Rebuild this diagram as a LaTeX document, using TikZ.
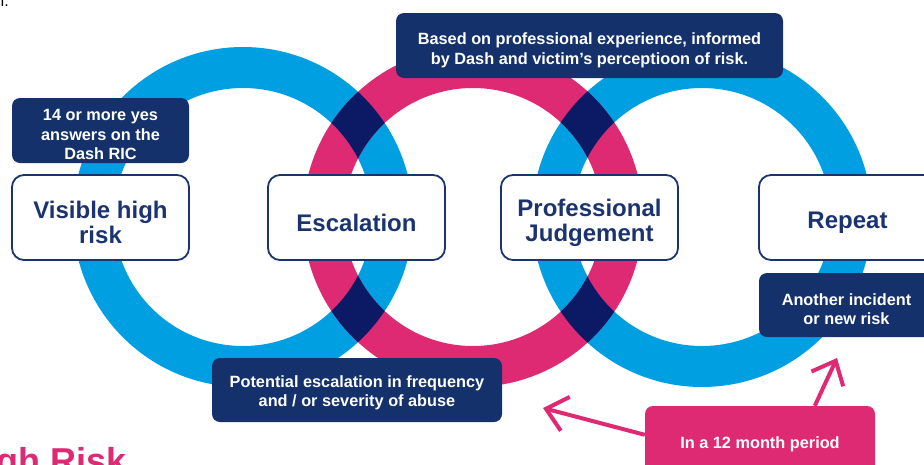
\documentclass[tikz,border=0pt]{standalone}
\usepackage{fontspec}
\setmainfont{Liberation Sans}
\usetikzlibrary{arrows.meta,calc}
\definecolor{ringblue}{HTML}{009FE2}
\definecolor{ringpink}{HTML}{DE2A72}
\definecolor{ringdark}{HTML}{0C1A66}
\definecolor{navy}{HTML}{14316B}
\definecolor{navytext}{HTML}{1B3470}

\begin{document}
\begin{tikzpicture}[x=1pt,y=-1pt,
  ring/.style={line width=41pt},
  infobox/.style={fill=navy, rounded corners=8pt, inner sep=0pt},
  infotext/.style={text=white, inner sep=0pt, align=center,
    font=\bfseries\fontsize{16.3}{19.5}\selectfont},
  stagebox/.style={draw=navytext, line width=1.8pt, fill=white,
    rounded corners=12pt, inner sep=0pt, minimum width=177pt, minimum height=85pt},
  stagetext/.style={text=navytext, inner sep=0pt, align=center,
    font=\bfseries\fontsize{24}{25}\selectfont},
  pinkbox/.style={fill=ringpink, rounded corners=8pt, inner sep=0pt},
  callout/.style={draw=ringpink, line width=4pt,
    -{Straight Barb[length=20pt,width=35pt]}}
]
\useasboundingbox (0,0) rectangle (924,464);
\clip (0,0) rectangle (924,464);

% three interlocking rings
\coordinate (cl) at (243,217);
\coordinate (cm) at (473,217);
\coordinate (cr) at (702,217);
\draw[ring, ringblue] (cl) circle[radius=149.5pt];
\draw[ring, ringblue] (cr) circle[radius=149.5pt];
\draw[ring, ringpink] (cm) circle[radius=149.5pt];
% darker overlap where the rings cross
\begin{scope}[even odd rule]
  \clip (cm) circle[radius=170pt] (cm) circle[radius=129pt];
  \draw[ring, ringdark] (cl) circle[radius=149.5pt];
  \draw[ring, ringdark] (cr) circle[radius=149.5pt];
\end{scope}

% stage boxes
\node[stagebox] (visible) at (100.5,217.5) {};
\node[stagebox] (escalation) at (356.5,217.5) {};
\node[stagebox] (judgement) at (589.5,217.5) {};
\node[stagebox] (repeat) at (847.5,217.5) {};
\node[stagetext] (visibleT) at ([yshift=-5pt]visible.center) {Visible high\\risk};
\node[stagetext] (escalationT) at ([yshift=-5pt]escalation.center) {Escalation};
\node[stagetext] (judgementT) at ([yshift=-5pt]judgement.center) {Professional\\Judgement};
\node[stagetext] (repeatT) at ([yshift=-5pt]repeat.center) {Repeat};

% explanatory boxes
\node[infobox, minimum width=177pt, minimum height=65pt] (ric) at (100.5,130.5) {};
\node[infobox, minimum width=387pt, minimum height=65pt] (based) at (589.5,45.5) {};
\node[infobox, minimum width=290pt, minimum height=64pt] (potential) at (357,390) {};
\node[infobox, minimum width=175pt, minimum height=64pt] (another) at (846.5,305) {};
\node[infotext] (ricT) at ([yshift=-4pt]ric.center)
  {14 or more yes\\answers on the\\Dash RIC};
\node[infotext] (basedT) at ([yshift=-5pt]based.center)
  {Based on professional experience, informed\\by Dash and victim’s perceptioon of risk.};
\node[infotext] (potentialT) at ([yshift=-3pt]potential.center)
  {Potential escalation in frequency\\and / or severity of abuse};
\node[infotext] (anotherT) at ([yshift=-4pt]another.center)
  {Another incident\\or new risk};

\node[pinkbox, minimum width=230pt, minimum height=72pt] (period) at (760,442) {};
\node[infotext] (periodT) at ([yshift=-2pt]period.center) {In a 12 month period};

% arrows from the period box
\coordinate (tipA) at (543,408);
\coordinate (tipB) at (837,358);
\draw[callout] ($(period.north west)+(0,29)$) -- (tipA);
\draw[callout] ($(period.north west)+(170,0)$) -- (tipB);

% partly visible text at the page edges
\node[anchor=base east, text=ringpink, inner sep=0pt,
  font=\bfseries\fontsize{36}{36}\selectfont] (title) at (127,473) {High Risk};
\node[anchor=base east, inner sep=0pt, font=\fontsize{16}{16}\selectfont]
  (prev) at (9,6) {n.};
\end{tikzpicture}
\end{document}
